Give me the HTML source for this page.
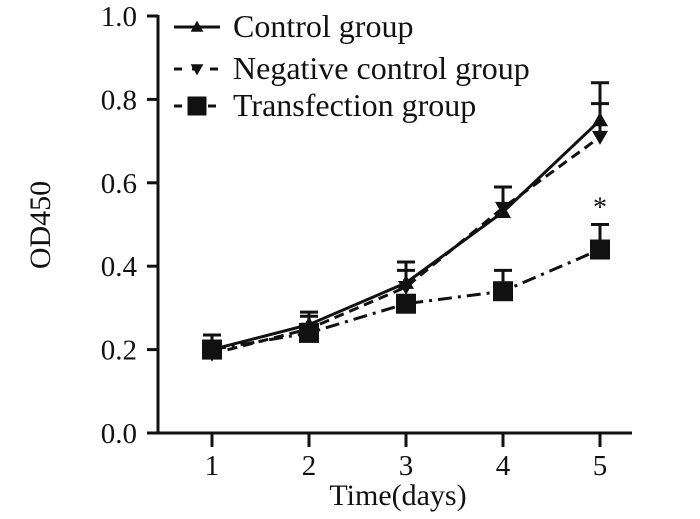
<!DOCTYPE html>
<html><head><meta charset="utf-8"><style>
body{margin:0;background:#fff}
svg text{font-family:"Liberation Serif",serif;fill:#111}
</style></head><body>
<svg width="700" height="514">
<g id="axes"></g>
<g id="plot"></g>
<g id="legend"></g>
</svg>
<script>
const days=[1,2,3,4,5];
const yTicks=[0.0,0.2,0.4,0.6,0.8,1.0];
const yTickLabels=["0.0","0.2","0.4","0.6","0.8","1.0"];
const controlVals=[0.20,0.26,0.36,0.53,0.75];
const controlErr=[0.035,0.03,0.05,0.06,0.09];
const negVals=[0.19,0.25,0.35,0.54,0.71];
const negErr=[0.03,0.03,0.04,0.05,0.08];
const transVals=[0.20,0.24,0.31,0.34,0.44];
const transErr=[0.02,0.02,0.0,0.05,0.06];
const legendLabels=["Control group","Negative control group","Transfection group"];

const NS="http://www.w3.org/2000/svg";
const X=d=>212+(d-1)*97;
const Y=v=>433-v*417;
function mk(t,a,p){const e=document.createElementNS(NS,t);for(const k in a)e.setAttribute(k,a[k]);p.appendChild(e);return e;}
const axes=document.getElementById('axes'),plot=document.getElementById('plot'),leg=document.getElementById('legend');
let e;
e=mk('line',{x1:158,y1:Y(1)-1,x2:158,y2:434,stroke:'#111','stroke-width':3},axes);

e=mk('line',{x1:148,y1:433,x2:632,y2:433,stroke:'#111','stroke-width':3},axes);

yTicks.forEach((v,i)=>{
 mk('line',{x1:147,y1:Y(v),x2:158,y2:Y(v),stroke:'#111','stroke-width':3},axes);
 e=mk('text',{x:137,y:Y(v)+10,'text-anchor':'end','font-size':29},axes);e.textContent=yTickLabels[i];
 
});
days.forEach(d=>{
 mk('line',{x1:X(d),y1:433,x2:X(d),y2:447,stroke:'#111','stroke-width':3},axes);
 e=mk('text',{x:X(d),y:475,'text-anchor':'middle','font-size':29},axes);e.textContent=d;
 
});
e=mk('text',{x:398,y:505,'text-anchor':'middle','font-size':30},axes);e.textContent='Time(days)';

e=mk('text',{x:0,y:0,'text-anchor':'middle','font-size':30,transform:'translate(50,225) rotate(-90)'},axes);e.textContent='OD450';


function marker(type,x,y,p,s){
 s=s||1;
 if(type==='up')return mk('polygon',{points:`${x-8*s},${y+6*s} ${x+8*s},${y+6*s} ${x},${y-8*s}`,fill:'#111'},p);
 if(type==='down')return mk('polygon',{points:`${x-8*s},${y-6*s} ${x+8*s},${y-6*s} ${x},${y+8*s}`,fill:'#111'},p);
 return mk('rect',{x:x-10*s,y:y-10*s,width:20*s,height:20*s,fill:'#111'},p);
}
const series=[
 {name:'control',vals:controlVals,err:controlErr,dash:'',m:'up'},
 {name:'negative-control',vals:negVals,err:negErr,dash:'10,6',m:'down'},
 {name:'transfection',vals:transVals,err:transErr,dash:'14,6,3,6',m:'sq'}];
series.forEach(s=>{
 const g=mk('g',{},plot);
 
 e=mk('polyline',{points:days.map((d,i)=>X(d)+','+Y(s.vals[i])).join(' '),fill:'none',stroke:'#111','stroke-width':3,'stroke-dasharray':s.dash},g);
 
 days.forEach((d,i)=>{
  if(s.err[i]>0){
   mk('line',{x1:X(d),y1:Y(s.vals[i]),x2:X(d),y2:Y(s.vals[i]+s.err[i]),stroke:'#111','stroke-width':3},g);
   mk('line',{x1:X(d)-9,y1:Y(s.vals[i]+s.err[i]),x2:X(d)+9,y2:Y(s.vals[i]+s.err[i]),stroke:'#111','stroke-width':3},g);
  }
  e=marker(s.m,X(d),Y(s.vals[i]),g);
  
 });
});
e=mk('text',{x:X(5),y:Y(transVals[4]+transErr[4])-8,'text-anchor':'middle','font-size':28},plot);e.textContent='*';


const ly=[27,69,106];
const ldash=['','8,10','8,26'];
series.forEach((s,i)=>{
 const g=mk('g',{},leg);
 
 mk('line',{x1:174,y1:ly[i],x2:220,y2:ly[i],stroke:'#111','stroke-width':3,'stroke-dasharray':ldash[i]},g);
 marker(s.m,197,ly[i],g,i===2?0.95:0.8);
 e=mk('text',{x:233,y:ly[i]+10,'font-size':32},g);e.textContent=legendLabels[i];
});
</script>
</body></html>
